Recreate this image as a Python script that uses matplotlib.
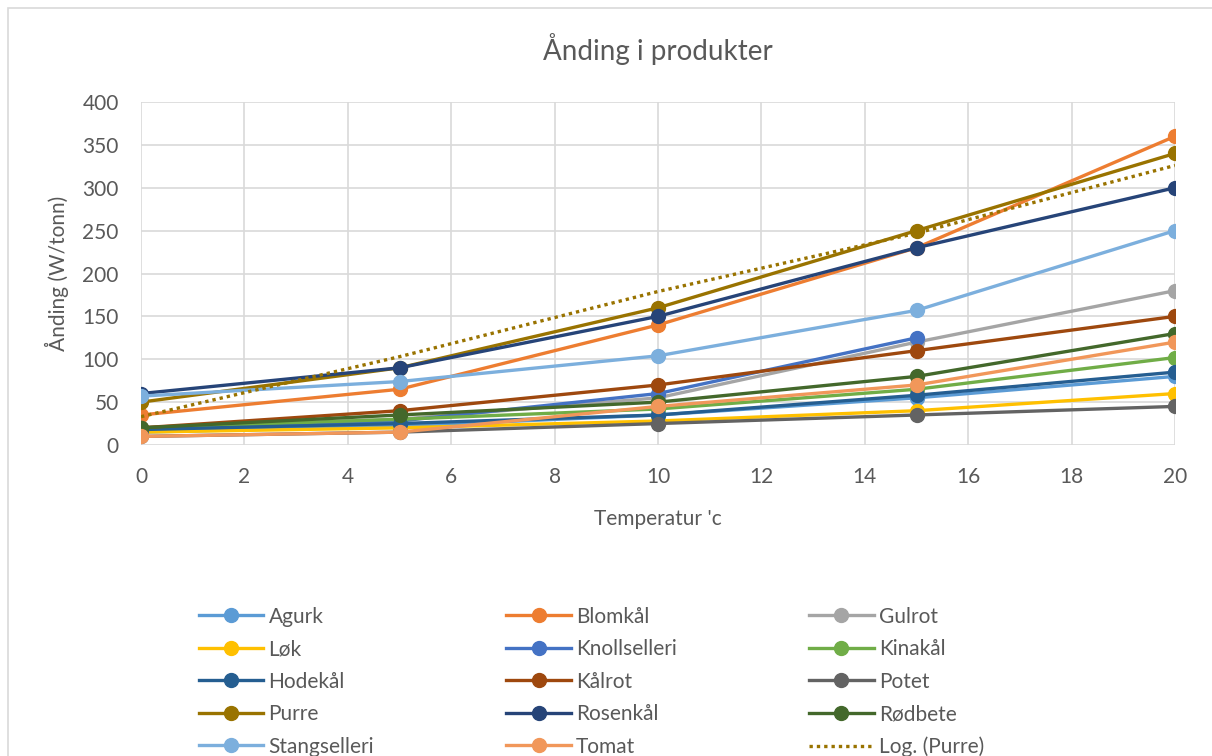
#!/usr/bin/env python
"""Line chart: respiration of produce vs temperature"""

import matplotlib
matplotlib.use("Agg")
import matplotlib.pyplot as plt
from matplotlib.patches import Rectangle
from matplotlib.lines import Line2D

plt.rcParams['font.family'] = ['Lato', 'DejaVu Sans']

# data
temps = [0, 5, 10, 15, 20]
agurk = [15, 22, 35, 55, 80]
blomkal = [35, 65, 140, 230, 360]
gulrot = [20, 30, 55, 120, 180]
lok = [15, 20, 28, 40, 60]
knollselleri = [20, 28, 60, 125, None]
kinakal = [20, 30, 42, 65, 102]
hodekal = [18, 25, 35, 58, 85]
kalrot = [20, 40, 70, 110, 150]
potet = [10, 15, 25, 35, 45]
purre = [50, 90, 160, 250, 340]
rosenkal = [60, 90, 150, 230, 300]
rodbete = [20, 35, 50, 80, 130]
stangselleri = [57, 74, 104, 157, 250]
tomat = [10, 15, 45, 70, 120]
# trendline "Log. (Purre)"
trend_x = [0, 5, 10, 15, 20]
trend_y = [33, 103, 179, 247, 326]

names = ["Agurk", "Blomkål", "Gulrot", "Løk", "Knollselleri", "Kinakål", "Hodekål",
         "Kålrot", "Potet", "Purre", "Rosenkål", "Rødbete", "Stangselleri", "Tomat"]
series = [agurk, blomkal, gulrot, lok, knollselleri, kinakal, hodekal,
          kalrot, potet, purre, rosenkal, rodbete, stangselleri, tomat]
colors = ["#5B9BD5", "#ED7D31", "#A5A5A5", "#FFC000", "#4472C4", "#70AD47", "#255E91",
          "#9E480E", "#636363", "#997300", "#264478", "#43682B", "#7CAFDD", "#F1975A"]

fig = plt.figure(figsize=(12.12, 7.56), dpi=100)
# outer chart frame
fig.patches.append(Rectangle((8/1212, -0.01), 1.1, 1 - 8/756 + 0.01, transform=fig.transFigure,
                             fill=False, edgecolor='#D9D9D9', linewidth=1.2))

ax = fig.add_axes([141/1212, 1 - 445/756, (1175 - 141)/1212, (445 - 102)/756])

handles = []
for name, vals, col in zip(names, series, colors):
    xs = [t for t, v in zip(temps, vals) if v is not None]
    ys = [v for v in vals if v is not None]
    h, = ax.plot(xs, ys, color=col, linewidth=2.4, marker='o', markersize=10,
                 label=name, zorder=3)
    handles.append(h)

t, = ax.plot(trend_x, trend_y, color='#997300', linestyle=(0, (1, 1.2)), linewidth=2.4,
             label="Log. (Purre)", zorder=3)
handles.append(t)

ax.set_xlim(0, 20)
ax.set_ylim(0, 400)
ax.set_xticks(range(0, 21, 2))
ax.set_yticks(range(0, 401, 50))
ax.grid(color='#D9D9D9', linewidth=1.2)
ax.set_axisbelow(True)
for s in ax.spines.values():
    s.set_visible(False)
ax.tick_params(axis='x', length=0, labelsize=15, labelcolor='#595959', pad=16)
ax.tick_params(axis='y', length=0, labelsize=15, labelcolor='#595959', pad=16)

ax.set_title("Ånding i produkter", fontsize=20, color='#595959', pad=30)
ax.set_xlabel("Temperatur 'c", fontsize=15, color='#595959', labelpad=16)
ax.set_ylabel("Ånding (W/tonn)", fontsize=15, color='#595959', labelpad=10)

# legend is filled row by row in the original, matplotlib fills by column
order = []
for c in range(3):
    for r in range(5):
        order.append(r*3 + c)
leg_handles = []
for i in order:
    h = handles[i]
    if i == 14:
        leg_handles.append(Line2D([], [], color='#997300', linestyle=(0, (1, 1.2)),
                                  linewidth=2.4, label=h.get_label()))
    else:
        leg_handles.append(Line2D([], [], color=h.get_color(), linewidth=2.4, marker='o',
                                  markersize=10, label=h.get_label()))
fig.legend(handles=leg_handles, loc='upper left', bbox_to_anchor=(180/1212, 1 - 588/756),
           ncol=3, frameon=False, fontsize=15, handlelength=3.1, handletextpad=0.25,
           columnspacing=6.35, labelspacing=0.6, labelcolor='#595959')

fig.savefig("out.png", dpi=100)
